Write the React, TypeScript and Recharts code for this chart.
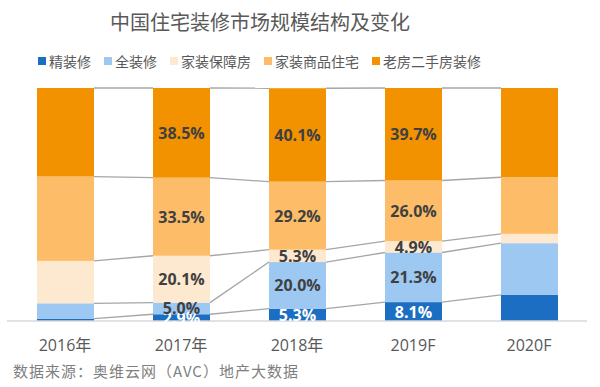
import { BarChart, Bar, XAxis, YAxis, LabelList, Legend } from 'recharts';

// 年份 + 五类装修占比（%），2016 / 2020 从图上估读
const years = ['2016年', '2017年', '2018年', '2019F', '2020F'];
const jingZhuang = [1.0, 2.9, 5.3, 8.1, 11.2];
const quanZhuang = [6.6, 5.0, 20.0, 21.3, 22.2];
const baoZhang = [18.2, 20.1, 5.3, 4.9, 4.0];
const shangPin = [36.2, 33.5, 29.2, 26.0, 24.3];
const laoFang = [38.0, 38.5, 40.1, 39.7, 38.3];
const showLabel = [false, true, true, true, false];

const seriesNames = ['精装修', '全装修', '家装保障房', '家装商品住宅', '老房二手房装修'];
const seriesKeys = ['jing', 'quan', 'bao', 'shang', 'lao'];
const seriesColors = ['#1b6ec2', '#9dc8f2', '#fde9cf', '#fdbd68', '#f39200'];

const data = years.map((year, i) => ({
  year,
  jing: jingZhuang[i],
  quan: quanZhuang[i],
  bao: baoZhang[i],
  shang: shangPin[i],
  lao: laoFang[i],
}));

const W = 600;
const H = 387;
const margin = { top: 88, right: 13, left: 7, bottom: 0 };
const step = (W - margin.left - margin.right) / years.length;
const cjk = '"Microsoft YaHei", "Noto Sans CJK SC", sans-serif';
const latin = '"Open Sans", "Noto Sans CJK SC", sans-serif';

// 每一段画矩形，再从它的顶边连一条灰线到下一根柱子的同一边界（Excel 的“系列线”）
const makeShape = (k: number) => (props: any) => {
  const { x, y, width, height, index, payload, fill } = props;
  const own = payload[seriesKeys[k]];
  const ppu = own ? height / own : 0;
  const cumTop = (row: any) => seriesKeys.slice(0, k + 1).reduce((s, key) => s + row[key], 0);
  const base = y + cumTop(payload) * ppu;
  const next = data[index + 1];
  return (
    <g>
      <rect x={x} y={y} width={width} height={height} fill={fill} />
      {next && ppu > 0 && (
        <line
          x1={x + width}
          y1={y}
          x2={x + step}
          y2={base - cumTop(next) * ppu}
          stroke="#a6a6a6"
          strokeWidth={1.3}
        />
      )}
    </g>
  );
};

const makeLabel = (color: string) => (props: any) => {
  const { x, y, width, height, value, index } = props;
  if (!showLabel[index]) return null;
  return (
    <text
      x={x + width / 2}
      y={y + height / 2}
      textAnchor="middle"
      dominantBaseline="central"
      fill={color}
      fontSize={16}
      fontWeight="bold"
      fontFamily={latin}
    >
      {`${Number(value).toFixed(1)}%`}
    </text>
  );
};

const LegendContent = () => (
  <div style={{ display: 'flex', gap: 13, fontFamily: cjk, fontSize: 14, color: '#595959', lineHeight: '16px' }}>
    {seriesNames.map((name, i) => (
      <div key={name} style={{ display: 'flex', alignItems: 'center' }}>
        <span style={{ width: 8, height: 8, background: seriesColors[i], marginRight: 3, display: 'inline-block' }} />
        <span>{name}</span>
      </div>
    ))}
  </div>
);

export default function App() {
  return (
    <div style={{ position: 'relative', width: W, height: H, background: '#fff', fontFamily: cjk }}>
      <style>{`body{margin:0}`}</style>
      <div
        style={{
          position: 'absolute',
          top: 11,
          left: 0,
          width: 520,
          textAlign: 'center',
          fontSize: 20,
          lineHeight: '22px',
          color: '#595959',
        }}
      >
        中国住宅装修市场规模结构及变化
      </div>

      <BarChart width={W} height={H} data={data} margin={margin} barSize={57}>
        <XAxis
          dataKey="year"
          axisLine={{ stroke: '#d9d9d9', strokeWidth: 1.5 }}
          tickLine={false}
          tickMargin={13}
          height={66}
          tick={{ fill: '#595959', fontSize: 16, fontFamily: latin }}
        />
        <YAxis hide domain={[0, 100]} />
        <Legend
          layout="horizontal"
          verticalAlign="middle"
          align="center"
          content={<LegendContent />}
          wrapperStyle={{ top: 53, left: 38, width: 460, height: 18 }}
        />
        {seriesKeys.map((key, k) => (
          <Bar
            key={key}
            dataKey={key}
            name={seriesNames[k]}
            stackId="a"
            fill={seriesColors[k]}
            shape={makeShape(k)}
            isAnimationActive={false}
          >
            <LabelList dataKey={key} content={makeLabel(k === 0 ? '#ffffff' : '#404040')} />
          </Bar>
        ))}
      </BarChart>

      <div
        style={{
          position: 'absolute',
          left: 13,
          top: 362,
          fontSize: 15,
          letterSpacing: 1,
          lineHeight: '18px',
          color: '#7f7f7f',
        }}
      >
        数据来源：奥维云网（AVC）地产大数据
      </div>
    </div>
  );
}
